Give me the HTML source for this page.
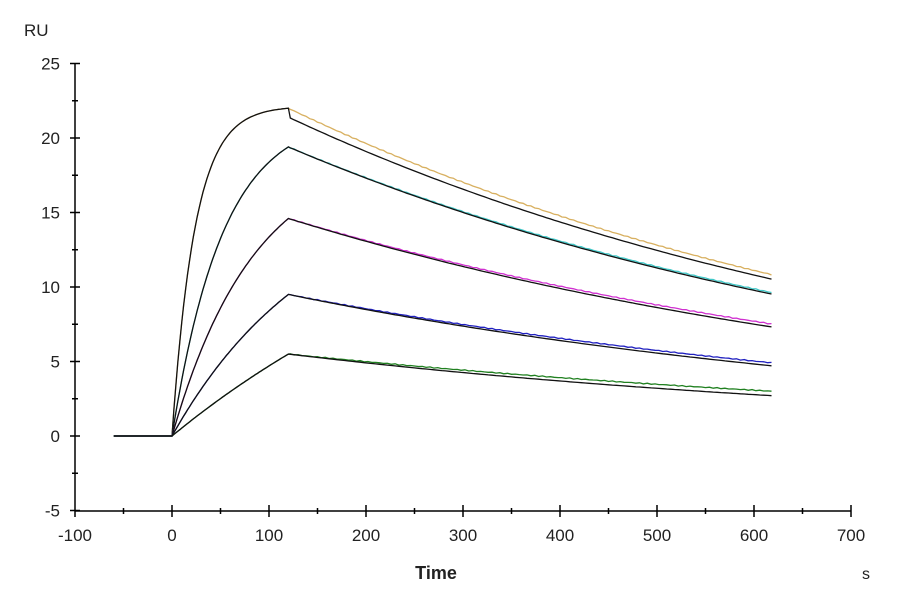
<!DOCTYPE html>
<html><head><meta charset="utf-8"><style>
body{margin:0;background:#fff;}
svg{display:block;font-family:"Liberation Sans",sans-serif;}
</style></head><body>
<svg id="s" width="900" height="600" xmlns="http://www.w3.org/2000/svg">
<rect width="900" height="600" fill="#fff"/>
<g id="axes" stroke="#000" stroke-width="1.5" fill="none"></g>
<g id="lab" font-size="17" fill="#222"></g>
<g id="curves" fill="none" stroke-width="1.3"></g>
<text x="24" y="36" font-size="17" fill="#222">RU</text>
<text x="436" y="579" font-size="18" font-weight="bold" fill="#222" text-anchor="middle">Time</text>
<text x="866" y="579" font-size="16" fill="#222" text-anchor="middle">s</text>
</svg>
<script>
const X=t=>75+(t+100)*0.97, Y=v=>436-v*14.9;
const ns="http://www.w3.org/2000/svg";
function el(p,n,a,txt){const e=document.createElementNS(ns,n);for(const k in a)e.setAttribute(k,a[k]);if(txt!==undefined)e.textContent=txt;document.getElementById(p).appendChild(e);}
let d=`M75 64 V511 H851`;
for(let v=-5;v<=25;v+=2.5){const y=Y(v),w=(v%5===0)?5:3;d+=` M${75-w} ${y} H${75+w}`;}
for(let t=-100;t<=700;t+=50){const x=X(t),w=(t%100===0)?6:3;d+=` M${x} ${511-w} V${511+w}`;}
el("axes","path",{d:d});
for(let v=-5;v<=25;v+=5)el("lab","text",{x:60,y:Y(v)+6,"text-anchor":"end"},v);
for(let t=-100;t<=700;t+=100)el("lab","text",{x:X(t),y:541,"text-anchor":"middle"},t);
const S=[
 {c:"#d8b060",A:22.2,k:0.042,r0:22,re:10.8,j:21.4,re2:10.5},
 {c:"#40c8c8",A:21.8,k:0.019,r0:19.4,re:9.6,j:19.4,re2:9.5},
 {c:"#d030d0",A:19.6,k:0.0118,r0:14.6,re:7.5,j:14.6,re2:7.3},
 {c:"#2020c0",A:17,k:0.0068,r0:9.5,re:4.9,j:9.5,re2:4.7},
 {c:"#208020",A:20,k:0.0027,r0:5.5,re:3.0,j:5.5,re2:2.7}];
S.forEach((s,i)=>{
 for(const fit of [false,true]){
  let pts=[];
  for(let t=-60;t<=0;t+=5)pts.push([t,0]);
  const A=s.r0/(1-Math.exp(-s.k*120));
  for(let t=0;t<=120;t+=2)pts.push([t,A*(1-Math.exp(-s.k*t))]);
  const st=fit?s.j:s.r0, en=fit?s.re2:s.re;
  const kd=Math.log(st/en)/500;
  for(let t=122;t<=620;t+=4)pts.push([t,st*Math.exp(-kd*(t-120))+(fit?0:Math.sin(t*0.7+i)*0.03)]);
  const p="M"+pts.map(q=>X(q[0]).toFixed(1)+" "+Y(q[1]).toFixed(1)).join(" L");
  el("curves","path",{d:p,stroke:fit?"#111":s.c});
 }
});
</script>
</body></html>
